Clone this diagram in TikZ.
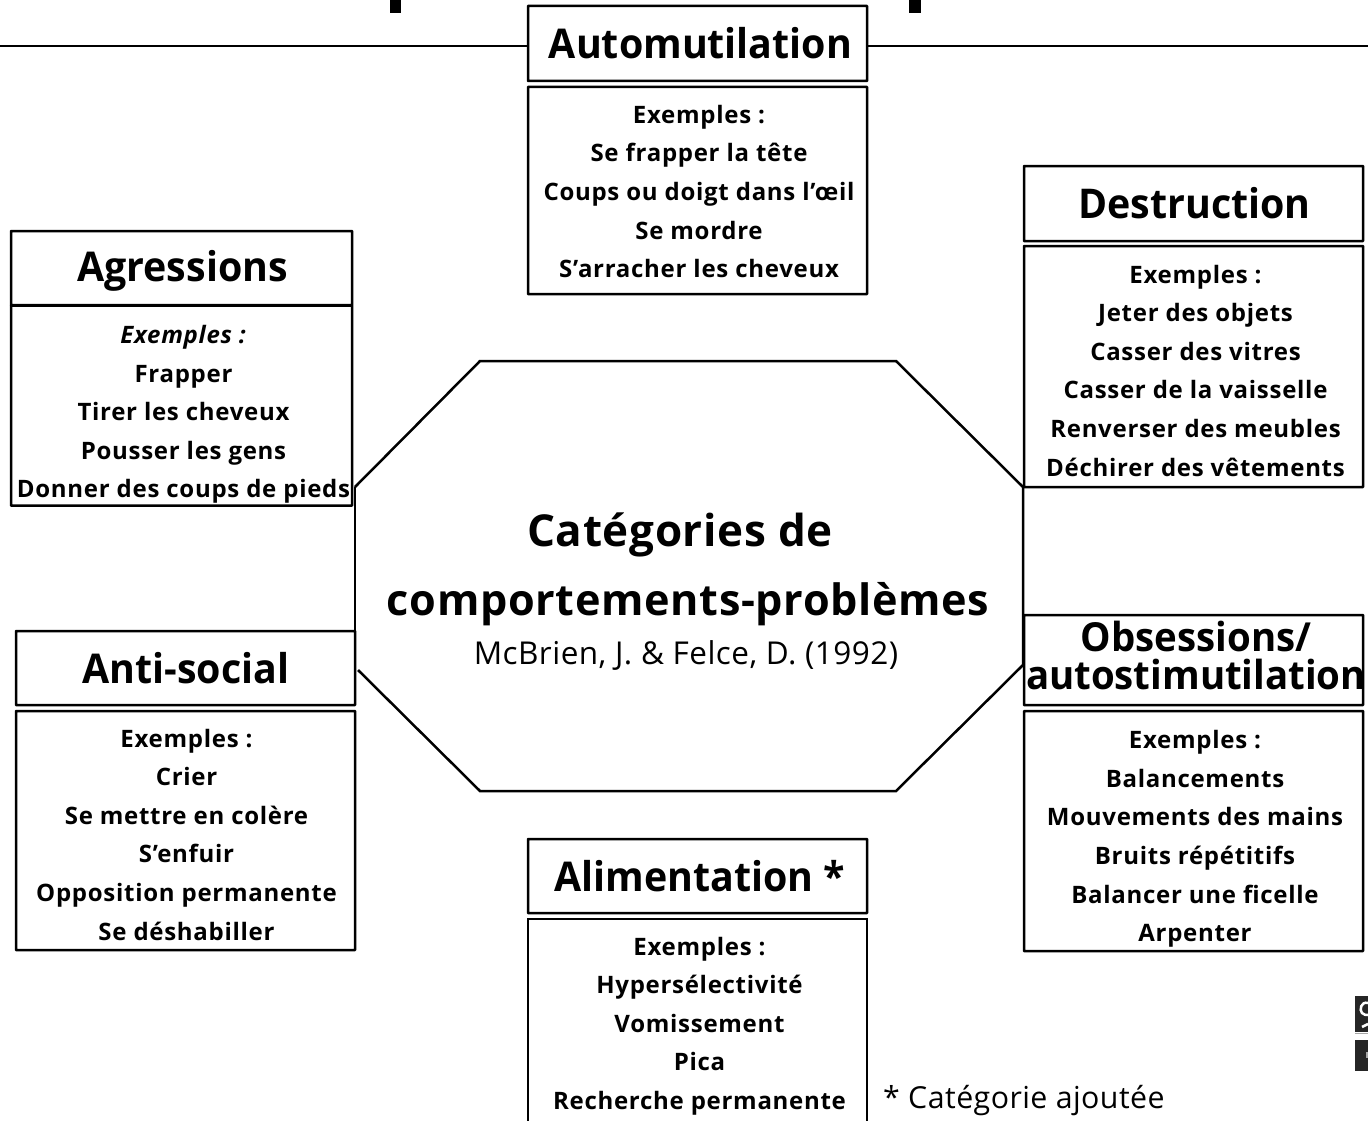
\documentclass[tikz,border=0pt]{standalone}
\usepackage{fontspec}
\setmainfont{Open Sans}[LetterSpace=1.5]
\newfontfamily\titlefam{Open Sans}[LetterSpace=0,FakeStretch=0.96]
\newfontfamily\bodyfam{Open Sans}[LetterSpace=3]
\begin{document}
\begin{tikzpicture}[x=1pt,y=-1pt,
  frame/.style={draw=black,line width=2.5pt,rounded corners=0.5pt,fill=white,inner sep=0pt,minimum width=339pt},
  titletext/.style={inner sep=0pt,align=center,font=\titlefam\fontsize{41}{41}\selectfont\bfseries},
  bodytext/.style={inner sep=0pt,align=center,font=\bodyfam\fontsize{24}{38.6}\selectfont\bfseries},
  bigtext/.style={inner sep=0pt,font=\fontsize{44}{44}\selectfont\bfseries},
  wire/.style={draw=black,line width=2.5pt},
  darkfill/.style={fill=black!85,draw=none}]
\useasboundingbox (0,0) rectangle (1368,1121);
% fragments at the top edge
\fill[black] (390,0) rectangle (401,13);
\fill[black] (909,0) rectangle (921,13);
% octagon
\coordinate (o1) at (480,361);
\coordinate (o2) at (896,361);
\coordinate (o3) at (1023,487);
\coordinate (o4) at (1023,665);
\coordinate (o5) at (896,791);
\coordinate (o6) at (480,791);
\coordinate (o7) at (358,670);
\coordinate (o8) at (355,669);
\coordinate (o9) at (355,487);
\draw[wire] (o9) -- (o1) -- (o2) -- (o3) -- (o4) -- (o5) -- (o6) -- (o7);
\draw[wire] (o8) -- (o9);
\node[bigtext] (c1) at (680,535) {Catégories de};
\node[bigtext,font=\fontsize{43.2}{44}\selectfont\bfseries] (c2) at (688,604) {comportements-problèmes};
\node[inner sep=0pt,font=\fontsize{31.5}{31}\selectfont] (c3) at (686,655) {McBrien, J. \& Felce, D. (1992)};
% top line
\coordinate (ll) at (0,46);
\coordinate (lr) at (1368,46);
% Automutilation
\node[frame,minimum height=75pt] (t1) at (697.5,43.5) {};
\node[titletext] (tx1) at (700.5,43) {Automutilation};
\node[frame,minimum height=207pt] (b1) at (697.5,190.5) {};
\node[bodytext] (bx1) at (699,191.5) {Exemples :\\Se frapper la tête\\Coups ou doigt dans l’œil\\Se mordre\\S’arracher les cheveux};
\draw[wire] (ll) -- (ll -| t1.west);
\draw[wire] (lr -| t1.east) -- (lr);
% Destruction
\node[frame,minimum height=75pt] (t2) at (1193.5,203.5) {};
\node[titletext] (tx2) at (1194.5,203.5) {Destruction};
\node[frame,minimum height=241pt] (b2) at (1193.5,366.5) {};
\node[bodytext] (bx2) at (1195.5,370.5) {Exemples :\\Jeter des objets\\Casser des vitres\\Casser de la vaisselle\\Renverser des meubles\\Déchirer des vêtements};
% Agressions
\node[frame,minimum width=341pt,minimum height=74pt] (t3) at (181.5,268) {};
\node[titletext] (tx3) at (182.5,271) {Agressions};
\node[frame,minimum width=341pt,minimum height=200pt] (b3) at (181.5,405.5) {};
\node[bodytext] (bx3) at (183.5,414.5) {\textit{Exemples :}\\Frapper\\Tirer les cheveux\\Pousser les gens\\Donner des coups de pieds};
% Anti-social
\node[frame,minimum height=74pt] (t4) at (185.5,668) {};
\node[titletext] (tx4) at (186,668) {Anti-social};
\node[frame,minimum height=239pt] (b4) at (185.5,830.5) {};
\node[bodytext] (bx4) at (186.5,834.5) {Exemples :\\Crier\\Se mettre en colère\\S’enfuir\\Opposition permanente\\Se déshabiller};
% Obsessions
\node[frame,minimum height=90pt] (t5) at (1193.5,660) {};
\node[titletext,font=\titlefam\fontsize{40}{38}\selectfont\bfseries] (tx5) at (1196,655) {Obsessions/\\autostimutilation};
\node[frame,minimum height=240pt] (b5) at (1193.5,831) {};
\node[bodytext] (bx5) at (1195,839) {Exemples :\\Balancements\\Mouvements des mains\\Bruits répétitifs\\Balancer une ficelle\\Arpenter};
% Alimentation
\node[frame,minimum height=74pt] (t6) at (697.5,876) {};
\node[titletext] (tx6) at (700,876) {Alimentation *};
\node[inner sep=0pt,minimum width=339pt,minimum height=202pt] (b6) at (697.5,1020) {};
\node[bodytext] (bx6) at (699.5,1026) {Exemples :\\Hypersélectivité\\Vomissement\\Pica\\Recherche permanente};
\draw[wire] (b6.south west) -- (b6.north west) -- (b6.north east) -- (b6.south east);
\node[anchor=west,inner sep=0pt,font=\fontsize{30.3}{30}\selectfont] (note) at (883,1101) {* Catégorie ajoutée};
% cropped logo fragment at the right edge
\fill[darkfill] (1355,996) rectangle (1368,1032);
\fill[darkfill] (1355,1040) rectangle (1368,1071);
\draw[white,line width=2.5pt] (1368,1003) .. controls (1361,1001) and (1359,1010) .. (1362,1013) .. controls (1364,1015) and (1366,1015) .. (1368,1015);
\draw[white,line width=2.5pt] (1368,1024) -- (1362,1027);
\draw[black!35,line width=1pt] (1355,1033.5) -- (1368,1033.5);
\fill[black!35] (1366,1052) rectangle (1368,1058);
\end{tikzpicture}
\end{document}
